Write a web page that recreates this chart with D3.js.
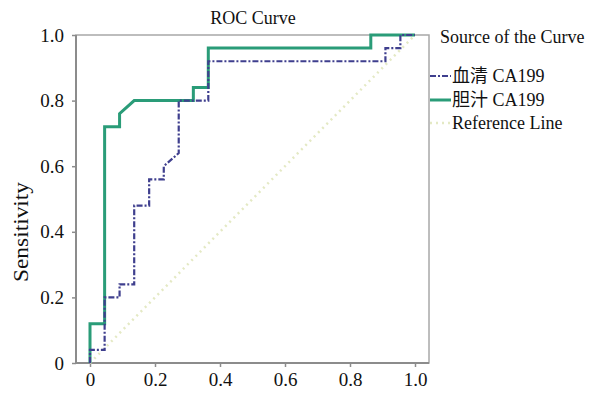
<!DOCTYPE html>
<html>
<head>
<meta charset="utf-8">
<script src="https://cdn.jsdelivr.net/npm/d3@7"></script>
<style>
  html, body { margin: 0; padding: 0; background: #fff; }
  svg { display: block; }
</style>
</head>
<body>
<svg id="chart" width="589" height="394"></svg>
<script>
// ---- data ----
const chartTitle = "ROC Curve";
const yAxisTitle = "Sensitivity";
const legendTitle = "Source of the Curve";
const seriesNames = ["血清 CA199", "胆汁 CA199", "Reference Line"];

// 1 - specificity (x) and sensitivity (y) for each ROC curve
const serumX = [0, 0, 0.045, 0.045, 0.091, 0.091, 0.136, 0.136, 0.182, 0.182, 0.227, 0.227, 0.273, 0.273, 0.364, 0.364, 0.909, 0.909, 0.955, 0.955, 1.0];
const serumY = [0, 0.04, 0.04, 0.20, 0.20, 0.24, 0.24, 0.48, 0.48, 0.56, 0.56, 0.60, 0.64, 0.80, 0.80, 0.92, 0.92, 0.96, 0.96, 1.0, 1.0];
const bileX = [0, 0, 0.045, 0.045, 0.091, 0.091, 0.136, 0.318, 0.318, 0.364, 0.364, 0.864, 0.864, 1.0];
const bileY = [0, 0.12, 0.12, 0.72, 0.72, 0.76, 0.80, 0.80, 0.84, 0.84, 0.96, 0.96, 1.0, 1.0];
const refX = [0, 1];
const refY = [0, 1];

const xTicks = [0, 0.2, 0.4, 0.6, 0.8, 1.0];
const yTicks = [0, 0.2, 0.4, 0.6, 0.8, 1.0];
const tickLabels = ["0", "0.2", "0.4", "0.6", "0.8", "1.0"];

// ---- drawing ----
const FONT = "'Liberation Serif', 'Noto Sans CJK SC', serif";
const svg = d3.select("#chart");
const x = d3.scaleLinear().domain([0, 1]).range([90, 415]);
const y = d3.scaleLinear().domain([0, 1]).range([363, 35]);
const frame = { x0: 76, x1: 429, y0: 35, y1: 363 };

const colors = { serum: "#3f3f8e", bile: "#2a9c78", ref: "#e4e9c4", axis: "#8c8c8c" };

// frame
svg.append("rect")
  .attr("x", frame.x0).attr("y", frame.y0)
  .attr("width", frame.x1 - frame.x0).attr("height", frame.y1 - frame.y0)
  .attr("fill", "none").attr("stroke", "#a8a8a8").attr("stroke-width", 1.5);

// axes
const yAxis = d3.axisLeft(y).tickValues(yTicks).tickSize(4).tickPadding(8)
  .tickFormat(d => tickLabels[yTicks.indexOf(d)]);
const gy = svg.append("g").attr("transform", `translate(${frame.x0},0)`).call(yAxis);
gy.attr("font-family", FONT);
gy.select(".domain").remove();
gy.selectAll("line").attr("stroke", colors.axis).attr("stroke-width", 1.5);
gy.selectAll("text").style("font-family", FONT).style("font-size", "19px").attr("fill", "#111");

const xAxis = d3.axisBottom(x).tickValues(xTicks).tickSize(4).tickPadding(6)
  .tickFormat(d => tickLabels[xTicks.indexOf(d)]);
const gx = svg.append("g").attr("transform", `translate(0,${frame.y1})`).call(xAxis);
gx.attr("font-family", FONT);
gx.select(".domain").remove();
gx.selectAll("line").attr("stroke", colors.axis).attr("stroke-width", 1.5);
gx.selectAll("text").style("font-family", FONT).style("font-size", "19px").attr("fill", "#111");

// axis lines (left & bottom darker)
svg.append("line").attr("x1", frame.x0).attr("x2", frame.x0).attr("y1", frame.y0).attr("y2", frame.y1)
  .attr("stroke", colors.axis).attr("stroke-width", 2);
svg.append("line").attr("x1", frame.x0).attr("x2", frame.x1).attr("y1", frame.y1).attr("y2", frame.y1)
  .attr("stroke", colors.axis).attr("stroke-width", 2);

const line = d3.line().x(d => x(d[0])).y(d => y(d[1]));
const zip = (a, b) => a.map((v, i) => [v, b[i]]);

// reference line
svg.append("path").datum(zip(refX, refY)).attr("d", line)
  .attr("fill", "none").attr("stroke", colors.ref).attr("stroke-width", 2.5)
  .attr("stroke-dasharray", "2,4");

// bile
svg.append("path").datum(zip(bileX, bileY)).attr("d", line)
  .attr("fill", "none").attr("stroke", colors.bile).attr("stroke-width", 3);

// serum
svg.append("path").datum(zip(serumX, serumY)).attr("d", line)
  .attr("fill", "none").attr("stroke", colors.serum).attr("stroke-width", 2.2)
  .attr("stroke-dasharray", "6,2,2,2");

const txt = (sel, size) => sel.style("font-family", FONT).style("font-size", size + "px").attr("fill", "#111");

// title
txt(svg.append("text").attr("x", 253).attr("y", 24).attr("text-anchor", "middle"), 18).text(chartTitle);

// y title
txt(svg.append("text").attr("transform", "translate(28,232) rotate(-90)")
  .attr("text-anchor", "middle"), 21)
  .attr("textLength", 100).attr("lengthAdjust", "spacingAndGlyphs").text(yAxisTitle);

// legend
txt(svg.append("text").attr("x", 440).attr("y", 43), 18).text(legendTitle);
const legendRows = [
  { name: seriesNames[0], color: colors.serum, dash: "6,2,2,2", w: 2.2, yy: 76 },
  { name: seriesNames[1], color: colors.bile, dash: null, w: 3, yy: 100 },
  { name: seriesNames[2], color: colors.ref, dash: "2,4", w: 2.5, yy: 123 }
];
legendRows.forEach(r => {
  const l = svg.append("line").attr("x1", 430).attr("x2", 451).attr("y1", r.yy).attr("y2", r.yy)
    .attr("stroke", r.color).attr("stroke-width", r.w);
  if (r.dash) l.attr("stroke-dasharray", r.dash);
  txt(svg.append("text").attr("x", 452).attr("y", r.yy + 6), 18).text(r.name);
});
</script>
</body>
</html>
